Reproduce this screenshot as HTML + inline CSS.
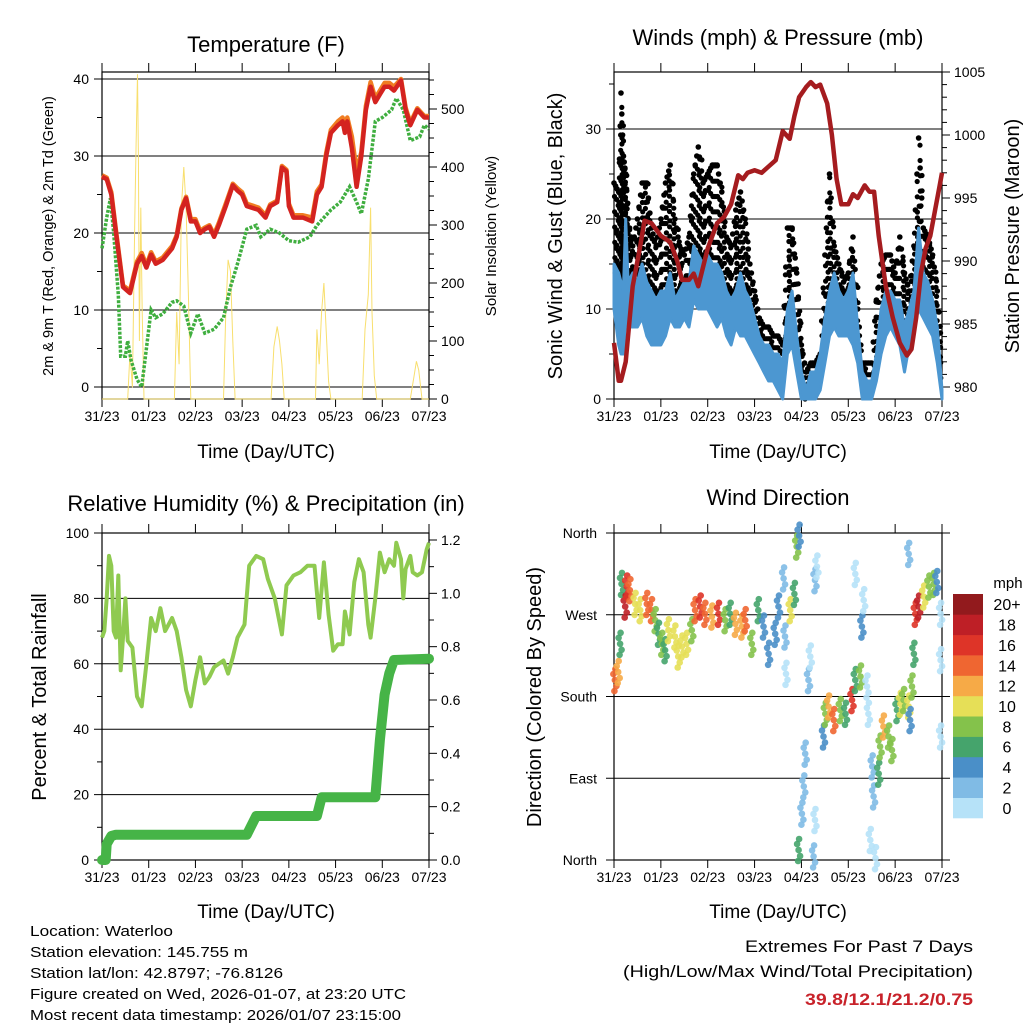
<!DOCTYPE html>
<html><head><meta charset="utf-8">
<style>
html,body{margin:0;padding:0;background:#fff;}
svg{display:block;font-family:"Liberation Sans",Arial,sans-serif;}
</style></head>
<body>
<svg id="chart" width="1024" height="1024" viewBox="0 0 1024 1024" xmlns="http://www.w3.org/2000/svg">
<rect width="1024" height="1024" fill="#fff"/>
<g id="layer"></g>
<text x="266" y="52" font-size="22" text-anchor="middle">Temperature (F)</text>
<text x="778" y="45" font-size="22" text-anchor="middle">Winds (mph) &amp; Pressure (mb)</text>
<text x="266" y="511" font-size="22" text-anchor="middle">Relative Humidity (%) &amp; Precipitation (in)</text>
<text x="778" y="505" font-size="22" text-anchor="middle">Wind Direction</text>
<text x="266" y="458" font-size="19" text-anchor="middle">Time (Day/UTC)</text>
<text x="778" y="458" font-size="19" text-anchor="middle">Time (Day/UTC)</text>
<text x="266" y="918" font-size="19" text-anchor="middle">Time (Day/UTC)</text>
<text x="778" y="918" font-size="19" text-anchor="middle">Time (Day/UTC)</text>
<text transform="translate(53,236) rotate(-90)" font-size="14.5" text-anchor="middle">2m &amp; 9m T (Red, Orange) &amp; 2m Td (Green)</text>
<text transform="translate(496,236) rotate(-90)" font-size="15" text-anchor="middle">Solar Insolation (Yellow)</text>
<text transform="translate(562,236) rotate(-90)" font-size="20" text-anchor="middle">Sonic Wind &amp; Gust (Blue, Black)</text>
<text transform="translate(1019,236) rotate(-90)" font-size="20" text-anchor="middle">Station Pressure (Maroon)</text>
<text transform="translate(46,697) rotate(-90)" font-size="20" text-anchor="middle">Percent &amp; Total Rainfall</text>
<text transform="translate(541,697) rotate(-90)" font-size="20" text-anchor="middle">Direction (Colored By Speed)</text>
<g font-size="14.5">
<text x="30" y="936" textLength="143" lengthAdjust="spacingAndGlyphs">Location: Waterloo</text>
<text x="30" y="957" textLength="218" lengthAdjust="spacingAndGlyphs">Station elevation: 145.755 m</text>
<text x="30" y="978" textLength="253" lengthAdjust="spacingAndGlyphs">Station lat/lon: 42.8797; -76.8126</text>
<text x="30" y="999" textLength="376" lengthAdjust="spacingAndGlyphs">Figure created on Wed, 2026-01-07, at 23:20 UTC</text>
<text x="30" y="1020" textLength="371" lengthAdjust="spacingAndGlyphs">Most recent data timestamp: 2026/01/07 23:15:00</text>
</g>
<text x="973" y="952" font-size="17" text-anchor="end" textLength="228" lengthAdjust="spacingAndGlyphs">Extremes For Past 7 Days</text>
<text x="973" y="977" font-size="17" text-anchor="end" textLength="350" lengthAdjust="spacingAndGlyphs">(High/Low/Max Wind/Total Precipitation)</text>
<text x="973" y="1005" font-size="17" font-weight="bold" fill="#c8222a" text-anchor="end" textLength="168" lengthAdjust="spacingAndGlyphs">39.8/12.1/21.2/0.75</text>
</svg>
<script>
// ---------- data ----------
const dayLabels = ["31/23","01/23","02/23","03/23","04/23","05/23","06/23","07/23"];
const tempTime = [0,0.1,0.2,0.3,0.45,0.6,0.75,0.85,0.95,1.05,1.15,1.3,1.5,1.6,1.7,1.8,1.9,2.0,2.1,2.2,2.3,2.4,2.5,2.65,2.8,2.9,3.0,3.1,3.35,3.5,3.6,3.75,3.85,3.95,4.0,4.1,4.3,4.5,4.6,4.7,4.8,4.9,5.05,5.15,5.2,5.25,5.35,5.45,5.55,5.65,5.75,5.85,5.95,6.05,6.15,6.25,6.4,6.5,6.6,6.75,6.9,7.0];
const temp2m = [27.3,27,25,20,13,12.2,16,17,15.5,17.2,16,16.5,18,19.5,23,24.5,21.5,21.5,20,20.5,20.8,19.5,21,23.5,26.2,25.5,25,23.5,23,22,23.5,24,28.5,28,23.5,22,22,21.5,25,26,30,33,34,34.5,33,34.5,31,26,30,36,39,37,38,39,39,38.5,39.8,36,34,36,35,35];
const temp9m = [27.5,27.2,25.3,20.3,13.2,12.5,16.3,17.4,15.8,17.5,16.3,16.8,18.3,19.7,23.2,24.7,21.8,21.8,20.3,20.7,21,19.8,21.3,23.8,26.4,25.8,25.3,23.8,23.3,22.3,23.7,24.2,28.7,28.2,23.8,22.3,22.3,22,25.4,26.3,30.4,33.4,34.5,35,33.5,35,32.5,28,30.5,36.5,39.6,37.5,38.5,39.5,39.5,39,40,36.3,34.3,36.2,35.2,35.2];
const dewTime = [0,0.1,0.18,0.25,0.3,0.35,0.4,0.5,0.55,0.62,0.75,0.85,0.95,1.05,1.15,1.3,1.5,1.6,1.75,1.9,2.05,2.2,2.4,2.6,2.75,2.9,3.1,3.3,3.4,3.6,3.8,4.0,4.2,4.45,4.6,4.75,4.9,5.1,5.3,5.45,5.55,5.7,5.85,6.0,6.2,6.3,6.45,6.6,6.8,6.9,7.0];
const dewPoint = [18,22,24.5,20,16,12,4,4,6,3.5,1,0,5,10,9,9.5,11,11.2,10.5,7,9.5,7,7.5,9,13,16,20.5,21,19.5,20.5,20,19,18.8,19.5,21,22,23,24,26,24,22.5,27,34.5,35,36,37.5,36,32,32.5,34,33.5];
const solarTime = [0,0.55,0.6,0.65,0.7,0.73,0.76,0.78,0.8,0.83,0.86,0.9,1.55,1.6,1.65,1.7,1.75,1.8,1.85,1.9,2.6,2.65,2.7,2.75,2.8,2.85,3.62,3.68,3.75,3.8,3.85,3.9,4.57,4.6,4.65,4.7,4.75,4.78,4.85,4.9,5.57,5.63,5.7,5.75,5.78,5.83,5.88,6.6,6.68,6.73,6.78,6.85,7];
const solarValue = [0,0,80,20,300,440,560,420,100,330,150,0,0,150,60,330,400,330,180,0,0,150,240,220,100,0,0,90,125,100,60,0,0,120,60,150,200,150,30,0,0,120,180,330,150,40,0,0,40,65,50,0,0];
const windTime = [0,0.1,0.15,0.2,0.25,0.3,0.4,0.5,0.6,0.7,0.8,0.9,1.0,1.1,1.2,1.3,1.4,1.5,1.6,1.7,1.8,1.9,2.0,2.1,2.2,2.3,2.4,2.5,2.6,2.7,2.8,2.9,3.0,3.1,3.2,3.3,3.4,3.5,3.6,3.7,3.8,3.9,4.0,4.1,4.2,4.3,4.4,4.5,4.6,4.7,4.8,4.9,5.0,5.1,5.2,5.3,5.4,5.5,5.6,5.7,5.8,5.9,6.0,6.1,6.2,6.3,6.4,6.5,6.6,6.7,6.8,6.9,7.0];
const windHigh = [15,14,13,12,20,13,14,13,15,13,12,11,12,12,14,11,12,13,13,17,16,15,16,15,15,14,12,11,12,14,12,11,9,7,6,6,5,5,4,10,12,7,3,1,3,3,5,9,12,14,12,11,12,14,8,3,2,2,5,10,12,12,11,11,8,10,12,19,14,13,11,8,1];
const windLow = [10,6,5,5,9,8,8,8,9,7,6,6,6,7,9,8,8,9,8,11,10,10,10,9,8,9,7,6,8,7,7,6,5,4,3,2,2,1,0,5,6,3,0,0,0,0,1,4,7,8,7,7,7,6,4,0,0,0,2,5,7,8,7,6,3,6,8,10,9,8,7,4,0];
const gustMax = [24,23,34,27,25,20,17,20,24,24,19,17,20,24,26,20,17,16,18,25,28,24,25,26,26,23,18,17,21,23,20,15,12,9,8,8,7,7,6,19,19,14,6,3,4,4,5,16,25,17,15,13,14,18,10,4,4,4,11,15,16,16,14,18,14,12,17,29,19,18,16,12,5];
const presTime = [0,0.1,0.15,0.25,0.4,0.55,0.65,0.8,0.9,1.0,1.2,1.35,1.45,1.6,1.7,1.8,2.0,2.2,2.35,2.5,2.65,2.75,2.85,3.0,3.15,3.3,3.45,3.6,3.75,3.85,3.95,4.1,4.2,4.3,4.4,4.55,4.65,4.75,4.85,5.0,5.1,5.2,5.35,5.45,5.55,5.65,5.8,5.95,6.1,6.25,6.35,6.45,6.55,6.65,6.75,6.85,6.95,7.0];
const pressure = [983.5,980.5,980.5,982,988,991,993.2,993,992.5,992,991.5,990,988.5,988.5,989,988,991,993,993.5,994.5,996.8,996.5,997,997.2,997,997.5,998,1000.3,999.7,1001.5,1003,1003.8,1004.2,1003.8,1004,1002.5,1000,996.5,994.5,994.5,995.3,995,996,995.5,995.5,992,988,985.5,983.5,982.5,983,985.5,989,991,992,994,996,997];
const rhTime = [0,0.05,0.1,0.15,0.2,0.25,0.3,0.35,0.4,0.45,0.5,0.55,0.65,0.75,0.85,0.95,1.05,1.15,1.25,1.35,1.5,1.6,1.7,1.8,1.9,2.0,2.1,2.2,2.3,2.4,2.5,2.6,2.7,2.8,2.9,3.05,3.15,3.3,3.45,3.55,3.7,3.85,3.95,4.1,4.25,4.4,4.55,4.65,4.75,4.85,4.95,5.05,5.15,5.2,5.3,5.4,5.5,5.6,5.7,5.75,5.85,5.95,6.05,6.15,6.25,6.3,6.4,6.45,6.5,6.6,6.65,6.75,6.85,6.95,7.0];
const rhValue = [68,70,80,93,90,70,68,87,58,68,80,67,65,50,47,60,74,70,77,70,74,70,62,52,47,55,62,54,56,59,60,61,57,62,68,72,90,93,92,86,80,69,84,87,88,90,90,74,91,75,64,66,66,76,69,85,92,88,72,68,80,94,88,92,90,97,92,80,89,93,88,87,88,95,97];
const precipTime = [0,0.08,0.1,0.2,0.3,1.0,2.0,3.1,3.3,4.6,4.7,5.85,5.95,6.05,6.15,6.25,7.0];
const precipValue = [0,0,0.06,0.09,0.095,0.095,0.095,0.095,0.165,0.165,0.235,0.235,0.45,0.62,0.7,0.75,0.755];
const dirTime = [0.02,0.09,0.13,0.16,0.24,0.27,0.34,0.45,0.56,0.70,0.80,0.88,0.95,1.02,1.09,1.16,1.30,1.37,1.45,1.55,1.66,1.73,1.84,1.94,2.09,2.23,2.37,2.48,2.59,2.73,2.80,2.94,3.08,3.19,3.30,3.44,3.51,3.62,3.65,3.67,3.76,3.85,3.90,3.95,3.94,4.01,4.05,4.08,4.15,4.19,4.29,4.33,4.29,4.26,4.47,4.51,4.58,4.69,4.83,4.94,5.08,5.15,5.26,5.29,5.33,5.15,5.40,5.43,5.51,5.54,5.47,5.58,5.65,5.68,5.75,5.86,5.93,6.04,6.11,6.18,6.29,6.32,6.29,6.36,6.40,6.43,6.50,6.61,6.72,6.82,6.89,6.97,6.97,6.97];
const dirDegrees = [198,207,238,304,279,301,297,282,275,282,275,264,249,238,231,253,246,224,235,238,253,275,279,271,268,271,264,271,260,257,264,238,275,257,227,249,279,310,246,205,275,293,345,357,11,51,81,117,198,224,308,323,44,4,136,161,169,154,165,161,176,198,202,257,286,315,191,161,103,70,22,2,95,125,147,136,121,165,172,176,169,154,337,191,227,271,279,290,301,304,306,271,220,136];
const dirSpeed = [14,12,6,7,18,16,14,10,10,14,14,8,6,8,6,10,10,10,10,10,8,14,16,14,12,16,8,6,12,12,14,8,6,4,4,4,4,2,2,0,10,6,8,4,6,2,3,2,2,1,2,0,1,2,4,8,12,14,8,6,16,6,8,4,0,0,0,1,2,2,1,0,6,8,12,8,8,6,10,8,10,4,2,8,6,16,18,10,8,8,4,0,0,0];
const speedBins = ["0","2","4","6","8","10","12","14","16","18","20+"];
const binColors = ["#b6e2f8","#80bbe5","#4a8fc8","#45a46c","#84c24b","#e6df57","#f6aa47","#ef6631","#de3428","#be1f26","#921a1d"];

// ---------- helpers ----------
const NS="http://www.w3.org/2000/svg";
const layer=document.getElementById('layer');
function mk(tag,attrs,parent){const e=document.createElementNS(NS,tag);for(const k in attrs)e.setAttribute(k,attrs[k]);(parent||layer).appendChild(e);return e;}
function txt(x,y,s,size,anchor,parent){const e=mk('text',{x:x,y:y,'font-size':size,'text-anchor':anchor},parent);e.textContent=s;return e;}
function lin(d0,d1,r0,r1){return v=>r0+(v-d0)*(r1-r0)/(d1-d0);}
function pathFrom(ts,vs,xf,yf){return ts.map((t,i)=>(i?'L':'M')+xf(t).toFixed(1)+','+yf(vs[i]).toFixed(1)).join('');}

function frame(X0,X1,Y0,Y1,name){
  const g=mk('g',{});
  
  
  mk('rect',{x:X0,y:Y0,width:X1-X0,height:Y1-Y0,fill:'none',stroke:'#000','stroke-width':1.2},g);
  const xf=lin(0,7,X0,X1);
  dayLabels.forEach((l,i)=>{
    const x=xf(i);
    mk('line',{x1:x,x2:x,y1:Y1,y2:Y1+8,stroke:'#000','stroke-width':1},g);
    mk('line',{x1:x,x2:x,y1:Y0,y2:Y0-9,stroke:'#000','stroke-width':1},g);
    const t=txt(x,Y1+22,l,14,'middle',g);
    
    
  });
  return g;
}
function hgrid(y,X0,X1,g){mk('line',{x1:X0-8,x2:X1,y1:y,y2:y,stroke:'#000','stroke-width':1},g);}

// ---------- Panel 1: temperature ----------
(function(){
  const X0=102,X1=429,Y0=72,Y1=399;
  const xf=lin(0,7,X0,X1), yf=lin(0,40,387,79), sf=lin(0,500,399,109);
  const g=frame(X0,X1,Y0,Y1,'temperature');
  [0,10,20,30,40].forEach(v=>{hgrid(yf(v),X0,X1,g);const t=txt(X0-13,yf(v)+5,String(v),14,'end',g);});
  [5,15,25,35].forEach(v=>mk('line',{x1:X0-5,x2:X0,y1:yf(v),y2:yf(v),stroke:'#000'},g));
  for(let v=0;v<=550;v+=25){const y=sf(v);mk('line',{x1:X1,x2:X1+(v%100==0?8:5),y1:y,y2:y,stroke:'#000'},g);}
  [0,100,200,300,400,500].forEach(v=>{const t=txt(X1+12,sf(v)+5,String(v),14,'start',g);});
  let p=mk('path',{d:pathFrom(solarTime,solarValue,xf,sf),fill:'none',stroke:'#f8df6e','stroke-width':1});
  
  
  p=mk('path',{d:pathFrom(dewTime,dewPoint,xf,yf),fill:'none',stroke:'#3fae3f','stroke-width':3.5,'stroke-dasharray':'3 1.5'});
  
  
  p=mk('path',{d:pathFrom(tempTime,temp9m,xf,yf),fill:'none',stroke:'#f07d22','stroke-width':4.5,'stroke-linejoin':'round'});
  
  
  p=mk('path',{d:pathFrom(tempTime,temp2m,xf,yf),fill:'none',stroke:'#d42320','stroke-width':4.5,'stroke-linejoin':'round'});
  
  
})();

// ---------- Panel 2: wind & pressure ----------
(function(){
  const X0=614,X1=942,Y0=72,Y1=399;
  const xf=lin(0,7,X0,X1), yf=lin(0,30,399,129), pf=lin(980,1005,387,72);
  const g=frame(X0,X1,Y0,Y1,'wind');
  [0,10,20,30].forEach(v=>{hgrid(yf(v),X0,X1,g);const t=txt(X0-13,yf(v)+5,String(v),14,'end',g);});
  [5,15,25,35].forEach(v=>mk('line',{x1:X0-5,x2:X0,y1:yf(v),y2:yf(v),stroke:'#000'},g));
  for(let v=980;v<=1005;v++){const y=pf(v);mk('line',{x1:X1,x2:X1+(v%5==0?8:5),y1:y,y2:y,stroke:'#000'},g);}
  [980,985,990,995,1000,1005].forEach(v=>{const t=txt(X1+12,pf(v)+5,String(v),14,'start',g);});
  const gg=mk('g',{fill:'#000'});
  
  
  for(let i=0;i<windTime.length-1;i++){
    for(let s=0;s<3;s++){
      const f=s/3, t=windTime[i]+f*(windTime[i+1]-windTime[i]);
      const hi=windHigh[i]+f*(windHigh[i+1]-windHigh[i]);
      const gm=gustMax[i]+f*(gustMax[i+1]-gustMax[i]);
      const lo=Math.max(0,hi-1);
      for(let v=lo;v<=gm;v+=1.7){
        mk('circle',{cx:(xf(t)+((v*7)%3)-1).toFixed(1),cy:yf(v).toFixed(1),r:2.6},gg);
      }
      mk('circle',{cx:xf(t).toFixed(1),cy:yf(gm).toFixed(1),r:2.8},gg);
    }
  }
  const band=pathFrom(windTime,windHigh,xf,yf)+pathFrom(windTime.slice().reverse(),windLow.slice().reverse(),xf,yf).replace('M','L')+'Z';
  let p=mk('path',{d:band,fill:'#4c97d1',stroke:'#4c97d1','stroke-width':3,'stroke-linejoin':'round'});
  
  
  p=mk('path',{d:pathFrom(presTime,pressure,xf,pf),fill:'none',stroke:'#a51c1f','stroke-width':4.5,'stroke-linejoin':'round'});
  
  
})();

// ---------- Panel 3: RH & precip ----------
(function(){
  const X0=102,X1=429,Y0=533,Y1=860;
  const xf=lin(0,7,X0,X1), yf=lin(0,100,860,533), pf=lin(0,1.2,860,540);
  const g=frame(X0,X1,Y0,Y1,'humidity');
  [0,20,40,60,80,100].forEach(v=>{hgrid(yf(v),X0,X1,g);const t=txt(X0-13,yf(v)+5,String(v),14,'end',g);});
  [10,30,50,70,90].forEach(v=>mk('line',{x1:X0-5,x2:X0,y1:yf(v),y2:yf(v),stroke:'#000'},g));
  for(let k=0;k<=12;k++){const v=k/10,y=pf(v);mk('line',{x1:X1,x2:X1+(k%2==0?8:5),y1:y,y2:y,stroke:'#000'},g);}
  ["0.0","0.2","0.4","0.6","0.8","1.0","1.2"].forEach(s=>{const t=txt(X1+12,pf(parseFloat(s))+5,s,14,'start',g);});
  let p=mk('path',{d:pathFrom(rhTime,rhValue,xf,yf),fill:'none',stroke:'#8fca50','stroke-width':4,'stroke-linejoin':'round'});
  
  
  p=mk('path',{d:pathFrom(precipTime,precipValue,xf,pf),fill:'none',stroke:'#46b447','stroke-width':10,'stroke-linejoin':'round','stroke-linecap':'round'});
  
  
})();

// ---------- Panel 4: wind direction ----------
(function(){
  const X0=614,X1=942,Y0=533,Y1=860;
  const xf=lin(0,7,X0,X1), yf=lin(0,360,860,533);
  const g=frame(X0,X1,Y0,Y1,'direction');
  [["North",0],["East",90],["South",180],["West",270],["North",360]].forEach(([l,v])=>{hgrid(yf(v),X0,X1+8,g);const t=txt(X0-17,yf(v)+5,l,14,'end',g);});
  const sg=mk('g',{});
  
  
  const jit=[[0,0],[-1.5,-6],[1.5,6],[0.5,-11],[-0.5,11]];
  dirTime.forEach((t,i)=>{
    const bin=Math.min(10,Math.floor(dirSpeed[i]/2));
    jit.forEach(([dx,dy])=>{
      mk('circle',{cx:(xf(t)+dx).toFixed(1),cy:(yf(dirDegrees[i])+dy).toFixed(1),r:3.3,fill:binColors[bin],'fill-opacity':0.9},sg);
    });
  });
  const cb=mk('g',{});
  
  
  const h=(818-594)/speedBins.length;
  speedBins.forEach((l,i)=>{
    const y=818-(i+1)*h;
    const r=mk('rect',{x:953,y:y.toFixed(1),width:30,height:(h+0.3).toFixed(1),fill:binColors[i]},cb);
    
    
    const t=txt(1007,y+h/2+6,l,16,'middle',cb);
    
    
  });
  const u=txt(1008,588,'mph',15,'middle',cb);
  
  
})();
</script>
</body></html>
